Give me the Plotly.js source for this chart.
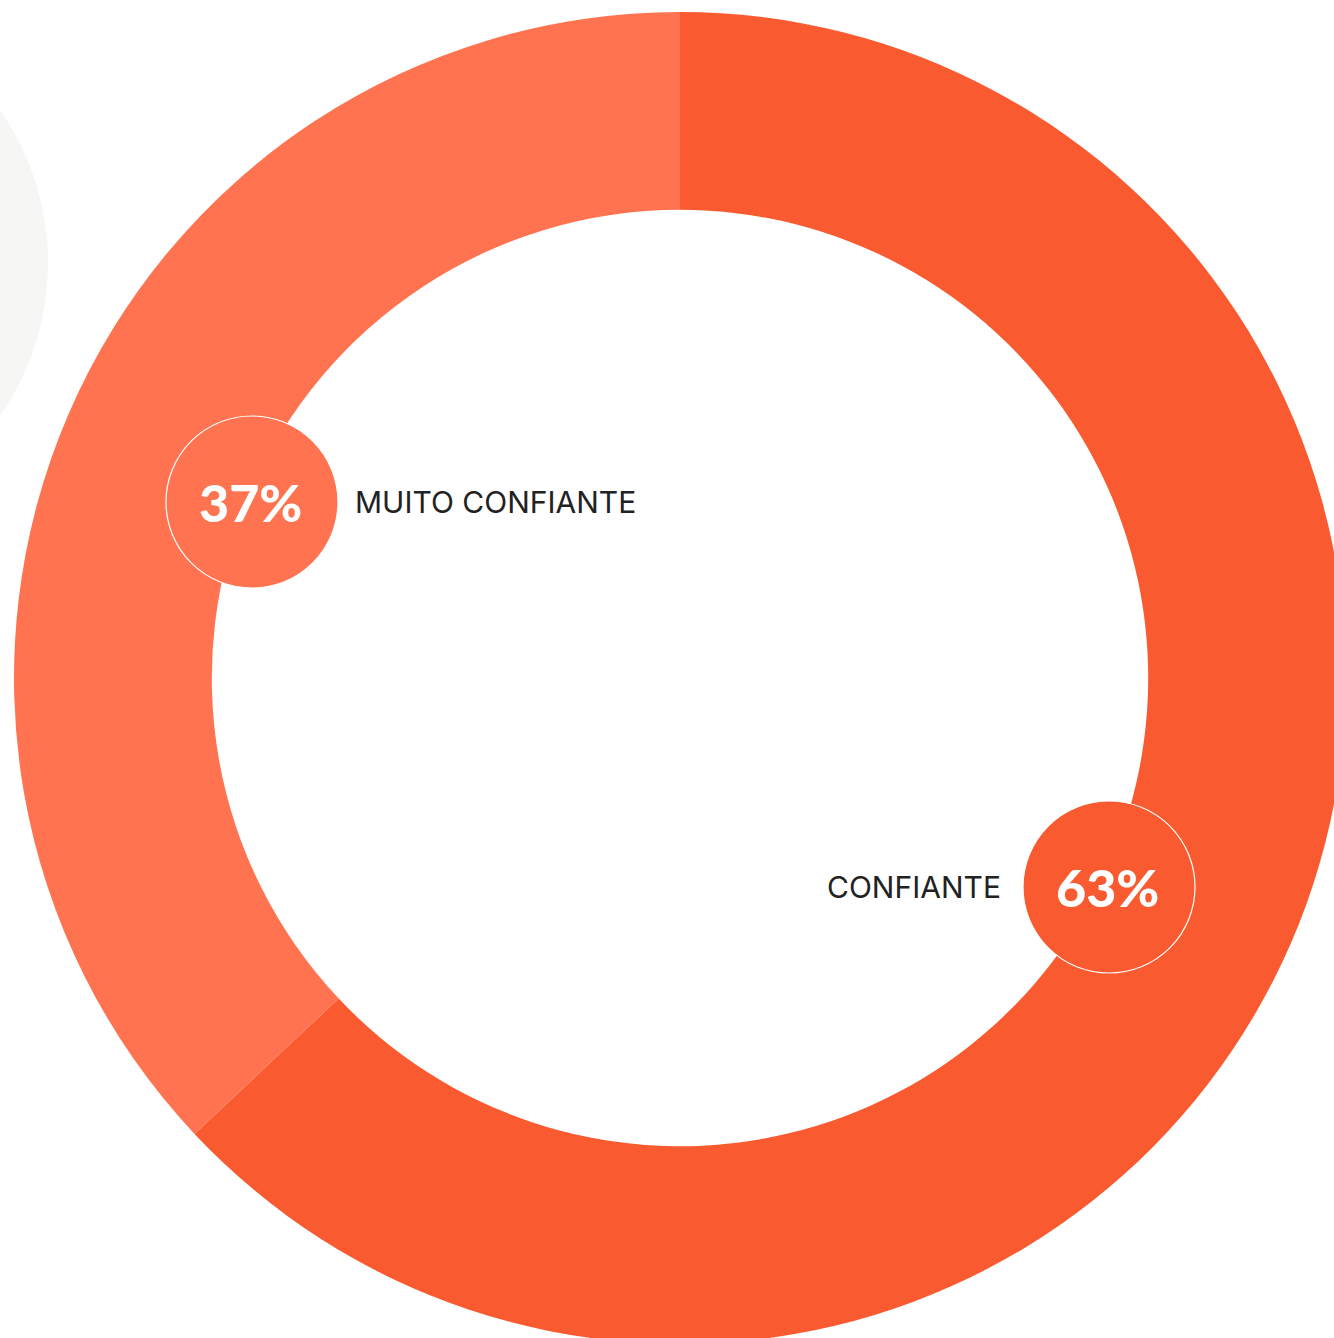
<!DOCTYPE html>
<html>
<head>
<meta charset="utf-8">
<script src="https://cdn.plot.ly/plotly-3.0.1.min.js"></script>
<style>
html,body{margin:0;padding:0;overflow:hidden;background:#fff;width:1334px;height:1338px;}
#chart{width:1360px;height:1360px;}
</style>
</head>
<body>
<div id="chart"></div>
<script>
// Data
const categories = ['CONFIANTE', 'MUITO CONFIANTE'];
const values = [63, 37];
const colors = ['#F95A2F', '#FF7350'];
const pctLabels = values.map(v => v + '%');

const W = 1360, H = 1360;
const px = x => x / W;
const py = y => 1 - y / H;

// Donut geometry (pixels)
const cx = 680, cy = 678, R = 666;

const trace = {
  type: 'pie',
  labels: categories,
  values: values,
  sort: false,
  direction: 'clockwise',
  rotation: 0,
  hole: 0.703,
  marker: {colors: colors, line: {width: 0}},
  textinfo: 'none',
  hoverinfo: 'none',
  showlegend: false,
  domain: {x: [px(cx - R), px(cx + R)], y: [py(cy + R), py(cy - R)]}
};

// label bubble positions (pixels)
const bubbles = [
  {x: 1109, y: 887, r: 86, text: 'left'},
  {x: 252, y: 502, r: 86, text: 'right'}
];

const shapes = [
  // light grey background blob at left
  {type: 'circle', xref: 'paper', yref: 'paper', layer: 'below',
   x0: px(-220 - 268), x1: px(-220 + 268), y0: py(263 + 268), y1: py(263 - 268),
   fillcolor: '#F6F6F4', line: {width: 0}}
];
const annotations = [];
bubbles.forEach((b, i) => {
  shapes.push({type: 'circle', xref: 'paper', yref: 'paper', layer: 'above',
    x0: px(b.x - b.r), x1: px(b.x + b.r), y0: py(b.y + b.r), y1: py(b.y - b.r),
    fillcolor: colors[i], line: {color: '#FFFFFF', width: 1.2}});
  annotations.push({xref: 'paper', yref: 'paper', x: px(b.x - 2), y: py(b.y),
    xanchor: 'center', yanchor: 'middle', showarrow: false, text: pctLabels[i],
    font: {family: 'Lato', size: 52, color: '#FFFFFF', weight: 900}});
  if (b.text === 'right') {
    annotations.push({xref: 'paper', yref: 'paper', x: px(b.x + b.r + 15), y: py(b.y),
      xanchor: 'left', yanchor: 'middle', showarrow: false, text: categories[i],
      font: {family: 'Inter', size: 30, color: '#222222'}});
  } else {
    annotations.push({xref: 'paper', yref: 'paper', x: px(b.x - b.r - 20), y: py(b.y),
      xanchor: 'right', yanchor: 'middle', showarrow: false, text: categories[i],
      font: {family: 'Inter', size: 30, color: '#222222'}});
  }
});

const layout = {
  width: W, height: H,
  margin: {l: 0, r: 0, t: 0, b: 0, pad: 0},
  paper_bgcolor: '#FFFFFF',
  plot_bgcolor: '#FFFFFF',
  showlegend: false,
  shapes: shapes,
  annotations: annotations
};

Plotly.newPlot('chart', [trace], layout, {displayModeBar: false, staticPlot: true});
</script>
</body>
</html>
